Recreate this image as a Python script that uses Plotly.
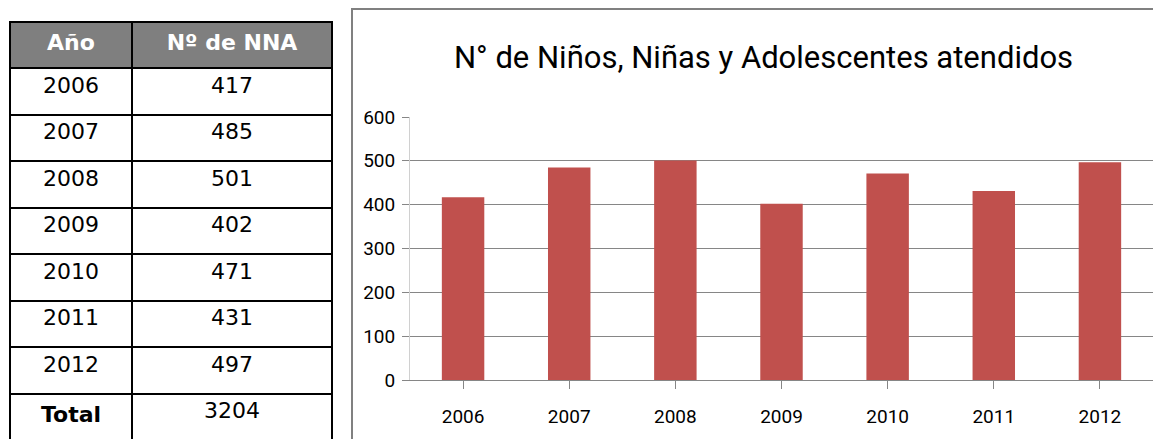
import plotly.graph_objects as go

years = ["2006", "2007", "2008", "2009", "2010", "2011", "2012"]
counts = [417, 485, 501, 402, 471, 431, 497]
total_label = "Total"
header_labels = ["Año", "Nº de NNA"]
title_text = "N° de Niños, Niñas y Adolescentes atendidos"

W, H = 1161, 439
OFF = 8  # page body margin


def px(x):
    return (x - OFF) / W


def py(y):
    return 1 - (y - OFF) / H


fig = go.Figure()

col1 = years + ["<b>" + total_label + "</b>"]
col2 = [str(c) for c in counts] + [str(sum(counts))]

fig.add_trace(go.Table(
    domain=dict(x=[px(10), px(332)], y=[0, py(22)]),
    columnwidth=[122, 200],
    header=dict(
        values=["<b>" + h + "</b>" for h in header_labels],
        fill_color="#7f7f7f",
        line=dict(color="black", width=2),
        font=dict(family="DejaVu Sans", size=22, color="white"),
        align="center",
        height=46,
    ),
    cells=dict(
        values=[col1, col2],
        fill_color="white",
        line=dict(color="black", width=2),
        font=dict(family="DejaVu Sans", size=22, color="black"),
        align="center",
        height=46.5,
    ),
))

fig.add_trace(go.Bar(
    x=years, y=counts, marker=dict(color="#C0504D", line=dict(width=0)),
    xaxis="x", yaxis="y", showlegend=False,
))

narrow = "Roboto, sans-serif"

fig.update_layout(
    template="none",
    width=W, height=H,
    margin=dict(l=0, r=0, t=0, b=0),
    paper_bgcolor="white", plot_bgcolor="white",
    bargap=0.6,
    xaxis=dict(
        domain=[px(410), px(1153)],
        automargin=False,
        showgrid=False,
        showline=True, linecolor="#868686", linewidth=1,
        ticks="outside", tickson="boundaries", ticklen=8, tickcolor="#868686",
        tickfont=dict(family=narrow, size=19, color="black"),
        ticklabelstandoff=11,
        anchor="y",
    ),
    yaxis=dict(
        domain=[py(380), py(117)],
        automargin=False,
        range=[0, 600], dtick=100,
        showgrid=True, gridcolor="#868686", gridwidth=1,
        showline=True, linecolor="#d0d0d0", linewidth=1,
        ticks="outside", ticklen=7, tickcolor="#868686",
        tickfont=dict(family=narrow, size=19, color="black"),
        ticklabelstandoff=3,
        zeroline=False,
        anchor="x",
    ),
    shapes=[dict(type="rect", xref="paper", yref="paper",
                 x0=px(352), x1=px(1180), y0=1 - 1 / H, y1=py(460),
                 line=dict(color="#808080", width=2), fillcolor="rgba(0,0,0,0)")],
    annotations=[dict(text=title_text, xref="paper", yref="paper",
                      x=px(763), y=py(57), xanchor="center", yanchor="middle",
                      showarrow=False,
                      font=dict(family=narrow, size=31, color="black"))],
)

fig.write_html("out.html")
